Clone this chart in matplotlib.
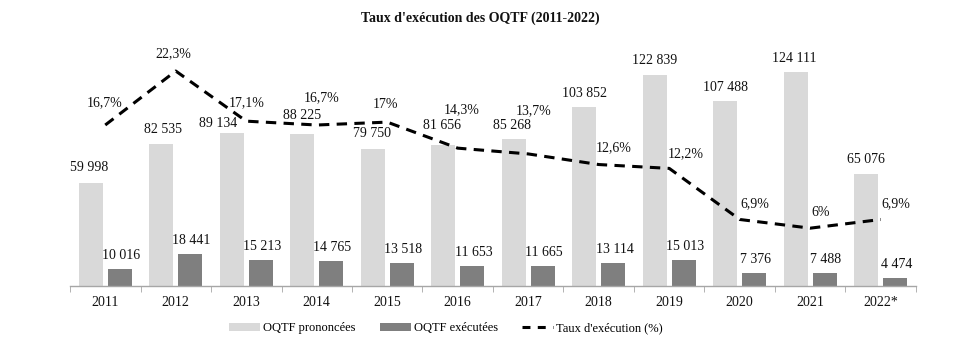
import matplotlib
matplotlib.use("Agg")
import matplotlib.pyplot as plt
import numpy as np
from matplotlib.lines import Line2D
from matplotlib.patches import Patch

# ---- data ----
years = ["2011", "2012", "2013", "2014", "2015", "2016", "2017", "2018", "2019", "2020", "2021", "2022*"]
prononcees = [59998, 82535, 89134, 88225, 79750, 81656, 85268, 103852, 122839, 107488, 124111, 65076]
executees = [10016, 18441, 15213, 14765, 13518, 11653, 11665, 13114, 15013, 7376, 7488, 4474]
taux = [16.7, 22.3, 17.1, 16.7, 17.0, 14.3, 13.7, 12.6, 12.2, 6.9, 6.0, 6.9]
taux_labels = ["16,7%", "22,3%", "17,1%", "16,7%", "17%", "14,3%", "13,7%", "12,6%", "12,2%", "6,9%", "6%", "6,9%"]

# ---- style (label offsets in pixels: dx, up) ----
light_off = [(-1, 15), (2, 14), (-13, 9.5), (0, 19), (-1, 15), (-1, 20), (-2, 14), (0, 14), (0, 14), (0, 13.5), (-1, 13.5), (0, 14)]
rate_off = [(-1, 22), (-2, 17), (0, 18), (5, 27), (-2, 18), (4, 38), (5, 43), (15, 17), (16, 15), (15, 16), (10, 16), (15, 16)]
PX = 72 / 100.0

LIGHT = "#d9d9d9"
DARK = "#7f7f7f"
AXC = "#a6a6a6"
FONT = ["Liberation Serif", "DejaVu Serif"]
plt.rcParams["font.family"] = FONT
plt.rcParams["font.size"] = 10


def fmt(v):
    return f"{v:,}".replace(",", " ")


fig = plt.figure(figsize=(9.62, 3.52), dpi=100)
ax = fig.add_axes([70 / 962, 66 / 352, 846 / 962, 241 / 352])
x = np.arange(len(years))
w = 0.34
off = 0.209

ax.bar(x - off, prononcees, width=w, color=LIGHT, zorder=2)
ax.bar(x + off, executees, width=w, color=DARK, zorder=2)
ax.set_xlim(-0.5, len(years) - 0.5)
ax.set_ylim(0, 140000)

for i, v in enumerate(prononcees):
    dx, dy = light_off[i]
    ax.annotate(fmt(v), (x[i] - off, v), xytext=(dx * PX, dy * PX), textcoords="offset points",
                ha="center", va="center", fontsize=10, color="#111111", zorder=5)
for i, v in enumerate(executees):
    ax.annotate(fmt(v), (x[i] + off, v), xytext=(1 * PX, 13.5 * PX), textcoords="offset points",
                ha="center", va="center", fontsize=10, color="#111111", zorder=5)

for s in ["top", "left", "right"]:
    ax.spines[s].set_visible(False)
ax.spines["bottom"].set_color(AXC)
ax.spines["bottom"].set_linewidth(1.0)
ax.set_yticks([])
ax.set_xticks(x)
ax.set_xticklabels(years, fontsize=10, color="#111111")
ax.tick_params(axis="x", which="major", length=0, pad=7)
ax.set_xticks(np.arange(-0.5, len(years)), minor=True)
ax.tick_params(axis="x", which="minor", length=4, color=AXC, direction="out")

ax2 = ax.twinx()
ax2.set_ylim(0, 25)
ax2.plot(x, taux, color="black", lw=2.2, dashes=(3.4, 2.4), zorder=4, solid_capstyle="butt")
for i, v in enumerate(taux):
    dx, dy = rate_off[i]
    ax2.annotate(taux_labels[i], (x[i], v), xytext=(dx * PX, dy * PX), textcoords="offset points",
                 ha="center", va="center", fontsize=10, color="#111111", zorder=5)
for s in ["top", "left", "right", "bottom"]:
    ax2.spines[s].set_visible(False)
ax2.set_yticks([])

fig.text(0.499, 1 - 18 / 352, "Taux d'exécution des OQTF (2011-2022)", ha="center", va="center",
         fontsize=10, fontweight="bold", color="#111111")

handles = [Patch(facecolor=LIGHT, edgecolor="none"), Patch(facecolor=DARK, edgecolor="none"),
           Line2D([0], [0], color="black", lw=2.2, dashes=(2.6, 2.4))]
labels = ["OQTF prononcées", "OQTF exécutées", "Taux d'exécution (%)"]
fig.legend(handles, labels, loc="center", bbox_to_anchor=(446 / 962, 1 - 328 / 352), ncol=3,
           frameon=False, fontsize=9, handlelength=2.5, handleheight=0.6, handletextpad=0.25,
           columnspacing=1.9)

fig.savefig("out.png", dpi=100)
